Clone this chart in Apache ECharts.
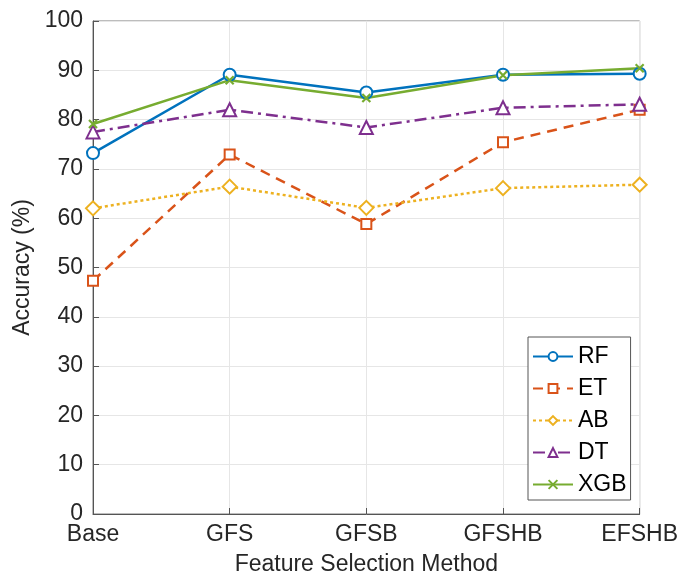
<!DOCTYPE html>
<html>
<head>
<meta charset="utf-8">
<script src="https://cdn.jsdelivr.net/npm/echarts@6/dist/echarts.min.js"></script>
<style>html,body{margin:0;padding:0;background:#fff;}#c{width:681px;height:581px;}</style>
</head>
<body>
<div id="c"></div>
<script>
const categories = ['Base', 'GFS', 'GFSB', 'GFSHB', 'EFSHB'];
const rf  = [73.2, 89.1, 85.5, 89.1, 89.3];
const et  = [47.3, 72.9, 58.8, 75.4, 82.0];
const ab  = [62.0, 66.4, 62.1, 66.1, 66.8];
const dt  = [77.5, 82.0, 78.4, 82.4, 83.1];
const xgb = [79.1, 88.0, 84.4, 89.0, 90.4];
const yTicks = [0, 10, 20, 30, 40, 50, 60, 70, 80, 90, 100];

const FONT = '"Liberation Sans", Arial, sans-serif';
const FS = 23;
const xPath = 'path://M0,0L10,10M10,0L0,10';

function mk(name, data, color, type, symbol, size) {
  return {
    name, type: 'line', data,
    symbol, symbolSize: size, showSymbol: true,
    lineStyle: { color, width: 2.5, type },
    itemStyle: { color, borderColor: color, borderWidth: 2.2 },
    emphasis: { disabled: true },
    z: 3
  };
}

const chart = echarts.init(document.getElementById('c'), null, { renderer: 'canvas' });
chart.setOption({
  animation: false,
  backgroundColor: '#fff',
  textStyle: { fontFamily: FONT },
  grid: { left: 93, right: 40, top: 21, bottom: 67, show: true, borderColor: '#7a7a7a', borderWidth: 1, backgroundColor: 'transparent' },
  legend: {
    orient: 'vertical', left: 528, top: 337,
    backgroundColor: '#fff', borderColor: '#555', borderWidth: 1,
    padding: [8, 4, 4, 4], itemGap: 9, itemWidth: 40, itemHeight: 11,
    textStyle: { fontSize: FS, color: '#000', fontFamily: FONT },
    data: ['RF', 'ET', 'AB', 'DT', 'XGB']
  },
  xAxis: {
    type: 'category', data: categories, boundaryGap: false,
    name: 'Feature Selection Method', nameLocation: 'middle', nameGap: 39,
    nameTextStyle: { fontSize: FS, color: '#262626', fontFamily: FONT },
    axisLine: { lineStyle: { color: '#555', width: 1 } },
    axisTick: { inside: true, length: 6, lineStyle: { color: '#555' } },
    axisLabel: { fontSize: FS, color: '#262626', margin: 9, fontFamily: FONT },
    splitLine: { show: true, lineStyle: { color: '#e6e6e6', width: 1 } }
  },
  yAxis: {
    type: 'value', min: 0, max: 100, interval: 10,
    name: 'Accuracy (%)', nameLocation: 'middle', nameGap: 54, nameRotate: 90,
    nameTextStyle: { fontSize: FS, color: '#262626', fontFamily: FONT },
    axisLine: { show: true, lineStyle: { color: '#555', width: 1 } },
    axisTick: { show: true, inside: true, length: 6, lineStyle: { color: '#555' } },
    axisLabel: { fontSize: FS, color: '#262626', margin: 10, fontFamily: FONT,
      formatter: v => yTicks.includes(v) ? String(v) : '' },
    splitLine: { show: true, lineStyle: { color: '#e6e6e6', width: 1 } }
  },
  series: [
    mk('RF', rf, '#0072BD', 'solid', 'emptyCircle', 12),
    mk('ET', et, '#D95319', [10, 7], 'emptyRect', 10),
    mk('AB', ab, '#EDB120', [3, 3], 'emptyDiamond', 14),
    mk('DT', dt, '#7E2F8E', [12, 5, 3, 5], 'emptyTriangle', 13),
    mk('XGB', xgb, '#77AC30', 'solid', xPath, 8)
  ]
});
</script>
</body>
</html>
